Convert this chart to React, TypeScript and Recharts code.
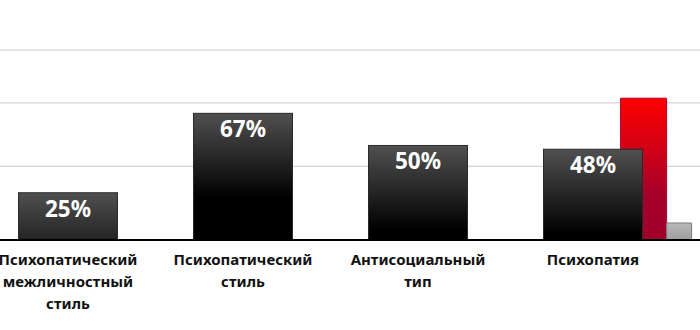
import { Bar, BarChart, CartesianGrid, LabelList, XAxis, YAxis } from "recharts";

const categories = [
  "Психопатический межличностный стиль",
  "Психопатический стиль",
  "Антисоциальный тип",
  "Психопатия",
];
const shares = [25, 67, 50, 48];
const redValues = [null, null, null, 75];
const grayValues = [null, null, null, 9];
const gridTicks = [39, 72.5, 100.5];

const data = categories.map((name, i) => ({
  name,
  share: shares[i],
  red: redValues[i],
  gray: grayValues[i],
}));

const FONT = "'Noto Sans', 'Open Sans', sans-serif";

function BlackBar(props: any) {
  const { x, y, width, height, index } = props;
  if (!height) return null;
  const id = `blk-${index}`;
  return (
    <g>
      <defs>
        <linearGradient id={id} gradientUnits="userSpaceOnUse" x1={0} y1={y} x2={0} y2={y + 85}>
          <stop offset="0%" stopColor="#505050" />
          <stop offset="100%" stopColor="#000000" />
        </linearGradient>
      </defs>
      <rect x={x} y={y} width={width} height={height} fill={`url(#${id})`} stroke="#2a2a2a" strokeWidth={1} />
    </g>
  );
}

function CategoryTick(props: any) {
  const { x, y, payload } = props;
  const words = String(payload.value).split(" ");
  return (
    <text x={x} y={y} textAnchor="middle" fill="#111" fontSize={15} fontWeight="bold" fontFamily={FONT}>
      {words.map((w, i) => (
        <tspan key={i} x={x} dy={i === 0 ? 17 : 22}>
          {w}
        </tspan>
      ))}
    </text>
  );
}

export default function App() {
  return (
    <div style={{ position: "absolute", left: -20, top: 0 }}>
      <BarChart
        width={720}
        height={330}
        data={data}
        margin={{ top: 50, right: 0, bottom: 0, left: 0 }}
        barGap={0}
      >
        <defs>
          <linearGradient id="redFill" x1="0" y1="0" x2="0" y2="1">
            <stop offset="0%" stopColor="#ff0000" />
            <stop offset="70%" stopColor="#a3002b" />
            <stop offset="100%" stopColor="#a0002a" />
          </linearGradient>
          <linearGradient id="grayFill" x1="0" y1="0" x2="0" y2="1">
            <stop offset="0%" stopColor="#b8b8b8" />
            <stop offset="100%" stopColor="#9e9e9e" />
          </linearGradient>
        </defs>
        <CartesianGrid vertical={false} stroke="#c8c8c8" />
        <YAxis hide domain={[0, 100.5]} ticks={gridTicks} />
        <XAxis
          dataKey="name"
          axisLine={{ stroke: "#000", strokeWidth: 2 }}
          tickLine={false}
          interval={0}
          height={90}
          padding={{ left: 0.5, right: 19.5 }}
          tick={<CategoryTick />}
        />
        <XAxis xAxisId="side" dataKey="name" hide padding={{ left: 370.4, right: 0 }} />
        <Bar
          xAxisId="side"
          dataKey="red"
          barSize={46}
          fill="url(#redFill)"
          stroke="#b0002c"
          isAnimationActive={false}
        />
        <Bar
          xAxisId="side"
          dataKey="gray"
          barSize={25}
          fill="url(#grayFill)"
          stroke="#7a7a7a"
          isAnimationActive={false}
        />
        <Bar dataKey="share" barSize={99} shape={<BlackBar />} isAnimationActive={false}>
          <LabelList
            dataKey="share"
            position="insideTop"
            offset={8}
            fill="#fff"
            fontSize={22.5}
            fontWeight="bold"
            fontFamily={FONT}
            formatter={(v: any) => `${v}%`}
          />
        </Bar>
      </BarChart>
    </div>
  );
}
